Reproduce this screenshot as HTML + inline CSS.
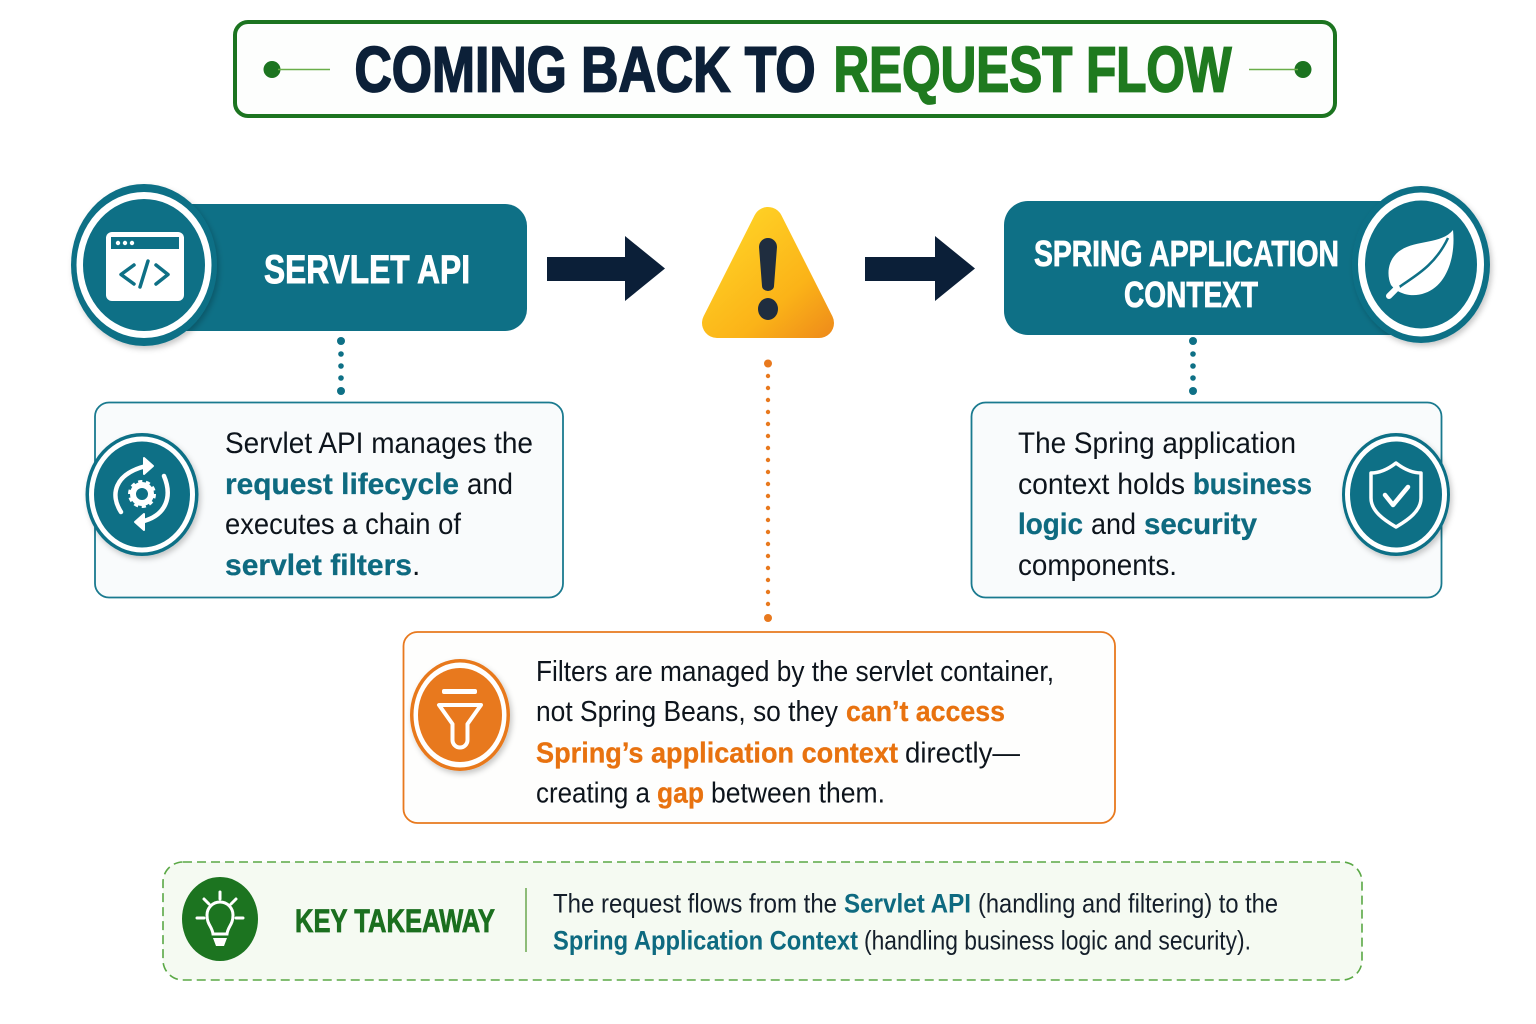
<!DOCTYPE html>
<html><head><meta charset="utf-8"><style>
html,body{margin:0;padding:0;background:#fff}
svg{display:block}
text{font-family:"Liberation Sans",sans-serif}
.b{font-size:30px;fill:#0d141c}
.bb{font-size:30px;font-weight:700;stroke-width:.3px}
.t{fill:#0e6a80;stroke:#0e6a80}
.o{fill:#e8720f;stroke:#e8720f}
.m{font-size:29px;fill:#0d141c}
.mb{font-size:29px;font-weight:700;stroke-width:.3px}
.k{font-size:27px;fill:#141e2a}
.kb{font-size:27px;font-weight:700;fill:#0e6a80}
</style></head><body>
<svg width="1536" height="1024" viewBox="0 0 1536 1024" xmlns="http://www.w3.org/2000/svg">
<defs>
<linearGradient id="w" gradientUnits="userSpaceOnUse" x1="730" y1="225" x2="830" y2="340"><stop offset="0" stop-color="#ffd125"/><stop offset=".6" stop-color="#fbb318"/><stop offset="1" stop-color="#ee8a1a"/></linearGradient>
<filter id="s" x="-20%" y="-20%" width="140%" height="140%"><feDropShadow dx="2" dy="3" stdDeviation="3" flood-color="#000" flood-opacity=".22"/></filter>
</defs>
<rect width="1536" height="1024" fill="#fff"/>

<!-- Title -->
<rect x="235" y="22" width="1100" height="94" rx="13" fill="#fdfefd" stroke="#1c7420" stroke-width="4"/>
<circle cx="272" cy="69.500" r="8.500" fill="#1c7420"/>
<line x1="278" y1="69.500" x2="330" y2="69.500" stroke="#6aae4a" stroke-width="1.500"/>
<circle cx="1303" cy="69.500" r="8.500" fill="#1c7420"/>
<line x1="1249" y1="69.500" x2="1298" y2="69.500" stroke="#6aae4a" stroke-width="1.500"/>
<text x="354.500" y="91.500" font-size="64" font-weight="700" fill="#0c2038" stroke="#0c2038" stroke-width="1.800" textLength="461" lengthAdjust="spacingAndGlyphs">COMING BACK TO</text>
<text x="833.500" y="91.500" font-size="64" font-weight="700" fill="#1f7a1f" stroke="#1f7a1f" stroke-width="1.800" textLength="398" lengthAdjust="spacingAndGlyphs">REQUEST FLOW</text>

<!-- Servlet pill -->
<rect x="140" y="204" width="387" height="127" rx="22" fill="#0e7086"/>
<ellipse cx="144" cy="265" rx="73" ry="81" fill="#0e7086" filter="url(#s)"/>
<ellipse cx="144" cy="265" rx="67.500" ry="73" fill="#fff"/>
<ellipse cx="144" cy="265" rx="61" ry="66" fill="#0e7086"/>
<rect x="106" y="232" width="78" height="69" rx="6" fill="#fff"/>
<rect x="111" y="237" width="68" height="12" fill="#0e7086"/>
<circle cx="118" cy="243" r="2.200" fill="#fff"/><circle cx="125" cy="243" r="2.200" fill="#fff"/><circle cx="132" cy="243" r="2.200" fill="#fff"/>
<path d="M134 265 L121 274.500 L134 284 M156 265 L168 274.500 L156 284 M148 261 L140 287" fill="none" stroke="#0e7086" stroke-width="3.500" stroke-linecap="round" stroke-linejoin="round"/>
<text x="264" y="283" font-size="40" font-weight="700" fill="#fff" stroke="#fff" stroke-width=".9" textLength="206" lengthAdjust="spacingAndGlyphs">SERVLET API</text>

<!-- Arrows -->
<path d="M547 257 H625 V236 L665 268.500 L625 301 V281 H547 Z" fill="#0b1f38"/>
<path d="M865 257 H935 V236 L975 268.500 L935 301 V281 H865 Z" fill="#0b1f38"/>

<!-- Warning -->
<path d="M768 222 L717 323 H819 Z" fill="url(#w)" stroke="url(#w)" stroke-width="30" stroke-linejoin="round"/>
<path d="M759 247 a9 9 0 0 1 18 0 L774 286 a6 5 0 0 1 -12 0 Z" fill="#1f2d3f"/>
<ellipse cx="768" cy="309" rx="10" ry="11" fill="#1f2d3f"/>

<!-- Spring pill -->
<rect x="1004" y="201" width="420" height="134" rx="24" fill="#0e7086"/>
<ellipse cx="1421" cy="264.500" rx="69" ry="78.500" fill="#0e7086" filter="url(#s)"/>
<ellipse cx="1421" cy="264.500" rx="63" ry="72" fill="#fff"/>
<ellipse cx="1421" cy="264.500" rx="56" ry="64" fill="#0e7086"/>
<path d="M1453 230 C1442 244 1416 240 1401 250 C1388 258 1386 274 1391 285 C1398 294 1412 298 1425 293 C1446 286 1456 258 1453 230 Z" fill="#fff"/>
<path d="M1392 293 C1405 280 1432 272 1448 238" fill="none" stroke="#0e7086" stroke-width="2.500"/>
<path d="M1389 296 L1397 288" stroke="#fff" stroke-width="6" stroke-linecap="round"/>
<text x="1034" y="266" font-size="36" font-weight="700" fill="#fff" stroke="#fff" stroke-width=".8" textLength="305" lengthAdjust="spacingAndGlyphs">SPRING APPLICATION</text>
<text x="1124" y="307" font-size="36" font-weight="700" fill="#fff" stroke="#fff" stroke-width=".8" textLength="134" lengthAdjust="spacingAndGlyphs">CONTEXT</text>

<!-- Teal dots -->
<g fill="#0e7086">
<circle cx="341" cy="341" r="4"/><circle cx="341" cy="354" r="2.800"/><circle cx="341" cy="366" r="2.800"/><circle cx="341" cy="378" r="2.800"/><circle cx="341" cy="391" r="4"/>
<circle cx="1193" cy="341" r="4"/><circle cx="1193" cy="354" r="2.800"/><circle cx="1193" cy="366" r="2.800"/><circle cx="1193" cy="378" r="2.800"/><circle cx="1193" cy="391" r="4"/>
</g>

<!-- Box 1 -->
<rect x="95" y="402.500" width="468" height="195" rx="14" fill="#f9fbfc" stroke="#1a7a8f" stroke-width="1.800"/>
<ellipse cx="142" cy="494.500" rx="56.500" ry="61.500" fill="#0e7086" filter="url(#s)"/>
<ellipse cx="142" cy="494.500" rx="53" ry="58" fill="#fff"/>
<ellipse cx="142" cy="494.500" rx="48" ry="53" fill="#0e7086"/>
<path d="M121 512 C110 495 114 474 146 466" fill="none" stroke="#fff" stroke-width="4.500" stroke-linecap="round"/>
<path d="M144 458 L153 466 L144 474 Z" fill="#fff" stroke="#fff" stroke-width="2" stroke-linejoin="round"/>
<path d="M164 476 C172 495 168 516 140 522" fill="none" stroke="#fff" stroke-width="4.500" stroke-linecap="round"/>
<path d="M144 514 L135 522 L144 530 Z" fill="#fff" stroke="#fff" stroke-width="2" stroke-linejoin="round"/>
<circle cx="142" cy="494" r="9" fill="none" stroke="#fff" stroke-width="6"/>
<circle cx="142" cy="494" r="12" fill="none" stroke="#fff" stroke-width="4" stroke-dasharray="4 3.500"/>

<text class="b" x="225" y="453" textLength="308" lengthAdjust="spacingAndGlyphs">Servlet API manages the</text>
<text class="bb t" x="225" y="494" textLength="234" lengthAdjust="spacingAndGlyphs">request lifecycle</text>
<text class="b" x="467" y="494" textLength="46" lengthAdjust="spacingAndGlyphs">and</text>
<text class="b" x="225" y="534" textLength="236" lengthAdjust="spacingAndGlyphs">executes a chain of</text>
<text class="bb t" x="225" y="575" textLength="187" lengthAdjust="spacingAndGlyphs">servlet filters</text>
<text class="b" x="412" y="575">.</text>

<!-- Box 2 -->
<rect x="971.500" y="402.500" width="470" height="195" rx="14" fill="#f9fbfc" stroke="#1a7a8f" stroke-width="1.800"/>
<ellipse cx="1396" cy="494.500" rx="54" ry="61.500" fill="#0e7086" filter="url(#s)"/>
<ellipse cx="1396" cy="494.500" rx="51" ry="58" fill="#fff"/>
<ellipse cx="1396" cy="494.500" rx="46" ry="53" fill="#0e7086"/>
<path d="M1396 463 C1387 470 1379 473 1371 473 V498 C1371 511 1384 520 1396 527 C1408 520 1421 511 1421 498 V473 C1413 473 1405 470 1396 463 Z" fill="none" stroke="#fff" stroke-width="3.500" stroke-linejoin="round"/>
<path d="M1385 495 L1393 505 L1408 487" fill="none" stroke="#fff" stroke-width="4.500" stroke-linecap="round" stroke-linejoin="round"/>

<text class="b" x="1018" y="453" textLength="278" lengthAdjust="spacingAndGlyphs">The Spring application</text>
<text class="b" x="1018" y="494" textLength="167" lengthAdjust="spacingAndGlyphs">context holds</text>
<text class="bb t" x="1193" y="494" textLength="119" lengthAdjust="spacingAndGlyphs">business</text>
<text class="bb t" x="1018" y="534" textLength="65" lengthAdjust="spacingAndGlyphs">logic</text>
<text class="b" x="1091" y="534" textLength="45" lengthAdjust="spacingAndGlyphs">and</text>
<text class="bb t" x="1144" y="534" textLength="113" lengthAdjust="spacingAndGlyphs">security</text>
<text class="b" x="1018" y="575" textLength="159" lengthAdjust="spacingAndGlyphs">components.</text>

<!-- Orange dots -->
<g fill="#e8791e">
<circle cx="768" cy="363.500" r="4"/><circle cx="768" cy="618" r="4"/>
<circle cx="768" cy="376" r="2.200"/><circle cx="768" cy="388" r="2.200"/><circle cx="768" cy="400" r="2.200"/><circle cx="768" cy="412" r="2.200"/><circle cx="768" cy="424" r="2.200"/><circle cx="768" cy="436" r="2.200"/><circle cx="768" cy="448" r="2.200"/><circle cx="768" cy="460" r="2.200"/><circle cx="768" cy="472" r="2.200"/><circle cx="768" cy="484" r="2.200"/><circle cx="768" cy="496" r="2.200"/><circle cx="768" cy="508" r="2.200"/><circle cx="768" cy="520" r="2.200"/><circle cx="768" cy="532" r="2.200"/><circle cx="768" cy="544" r="2.200"/><circle cx="768" cy="556" r="2.200"/><circle cx="768" cy="568" r="2.200"/><circle cx="768" cy="580" r="2.200"/><circle cx="768" cy="592" r="2.200"/><circle cx="768" cy="604" r="2.200"/>
</g>

<!-- Middle box -->
<rect x="403.500" y="632" width="711.500" height="191" rx="14" fill="#fefefd" stroke="#e8791e" stroke-width="1.800"/>
<ellipse cx="460" cy="715" rx="50" ry="56" fill="#e8791e" filter="url(#s)"/>
<ellipse cx="460" cy="715" rx="46.500" ry="52.500" fill="#fff"/>
<ellipse cx="460" cy="715" rx="42" ry="47" fill="#e8791e"/>
<rect x="442" y="689" width="35" height="5" rx="2" fill="#fff"/>
<path d="M439 705 H481 L467.500 724 V740 a7.500 7.500 0 0 1 -15 0 V724 Z" fill="none" stroke="#fff" stroke-width="4" stroke-linejoin="round"/>

<text class="m" x="536" y="681" textLength="518" lengthAdjust="spacingAndGlyphs">Filters are managed by the servlet container,</text>
<text class="m" x="536" y="721" textLength="302" lengthAdjust="spacingAndGlyphs">not Spring Beans, so they</text>
<text class="mb o" x="846" y="721" textLength="159" lengthAdjust="spacingAndGlyphs">can’t access</text>
<text class="mb o" x="536" y="762.500" textLength="362" lengthAdjust="spacingAndGlyphs">Spring’s application context</text>
<text class="m" x="905" y="762.500" textLength="115" lengthAdjust="spacingAndGlyphs">directly—</text>
<text class="m" x="536" y="802.500" textLength="114" lengthAdjust="spacingAndGlyphs">creating a</text>
<text class="mb o" x="657" y="802.500" textLength="47" lengthAdjust="spacingAndGlyphs">gap</text>
<text class="m" x="711" y="802.500" textLength="174" lengthAdjust="spacingAndGlyphs">between them.</text>

<!-- Key takeaway -->
<rect x="163" y="862" width="1199" height="118" rx="20" fill="#f5faf2" stroke="#5aa845" stroke-width="1.600" stroke-dasharray="9 5"/>
<ellipse cx="220" cy="919" rx="38" ry="42" fill="#1c7420"/>
<path d="M213 934 C212 926 207 925 207 915 A13 13 0 1 1 233 915 C233 925 228 926 227 934 Z" fill="none" stroke="#fff" stroke-width="3"/>
<path d="M213 938 H227 L224 946 H216 Z" fill="#fff"/>
<path d="M220 892 V899 M204 899 L209 904 M236 899 L231 904 M197 918 H204 M236 918 H243" stroke="#fff" stroke-width="3" stroke-linecap="round"/>
<text x="295" y="932" font-size="32" font-weight="700" fill="#1b6f1f" stroke="#1b6f1f" stroke-width=".7" textLength="200" lengthAdjust="spacingAndGlyphs">KEY TAKEAWAY</text>
<line x1="526" y1="888" x2="526" y2="952" stroke="#6aa84f" stroke-width="1.500"/>
<text class="k" x="553" y="912.500" textLength="284" lengthAdjust="spacingAndGlyphs">The request flows from the</text>
<text class="kb" x="844" y="912.500" textLength="127" lengthAdjust="spacingAndGlyphs">Servlet API</text>
<text class="k" x="978" y="912.500" textLength="300" lengthAdjust="spacingAndGlyphs">(handling and filtering) to the</text>
<text class="kb" x="553" y="949.500" textLength="305" lengthAdjust="spacingAndGlyphs">Spring Application Context</text>
<text class="k" x="864" y="949.500" textLength="387" lengthAdjust="spacingAndGlyphs">(handling business logic and security).</text>
</svg>
</body></html>
